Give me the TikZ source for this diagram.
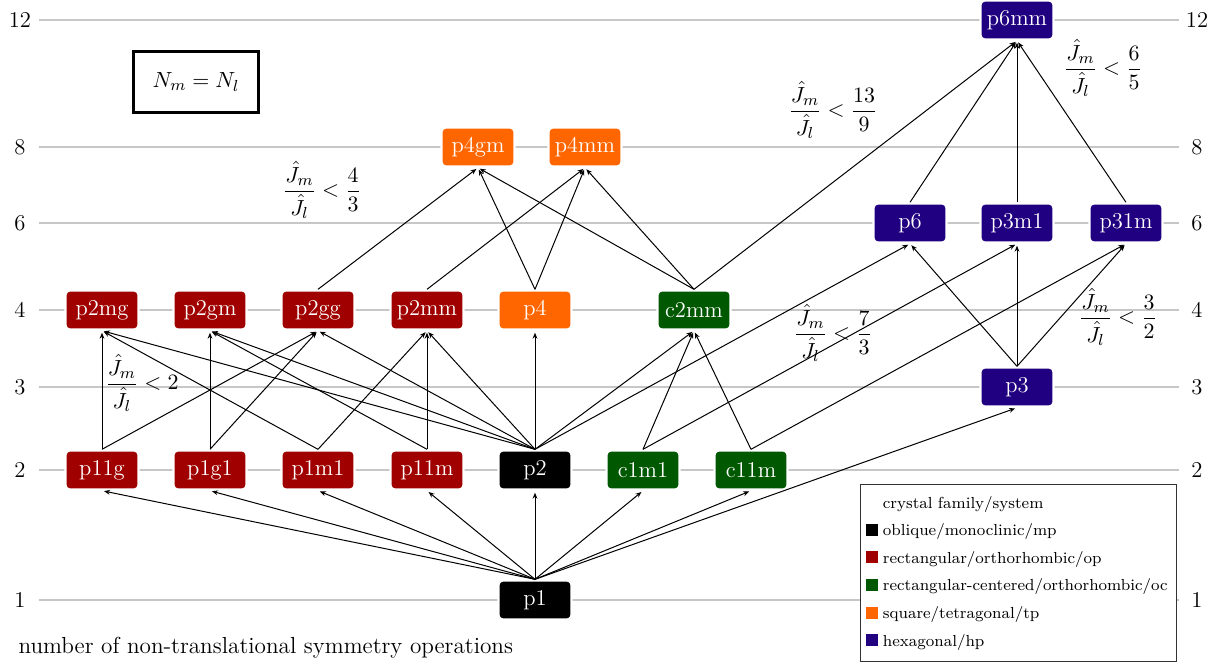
\documentclass[tikz,border=0pt]{standalone}
\usepackage{amsmath}
\usepackage{tikz}
\usetikzlibrary{arrows.meta,positioning}
\definecolor{monoBlack}{RGB}{0,0,0}
\definecolor{orthoRed}{RGB}{160,0,0}
\definecolor{centGreen}{RGB}{0,88,0}
\definecolor{tetraOrange}{RGB}{255,102,0}
\definecolor{hexBlue}{RGB}{32,0,128}
\newcommand{\swatch}[1]{\textcolor{#1}{\rule{6pt}{6pt}}}
\newcommand{\jratio}[1]{$\displaystyle\frac{\hat{J}_m}{\hat{J}_l}<#1$}
\tikzset{
  >=Stealth,
  every picture/.append style={line width=0.5pt},
  every node/.append style={font=\fontsize{11.3}{13}\selectfont},
}
\tikzset{
  group/.style={rounded corners=2pt, draw=white, line width=1.2pt, text=white,
                minimum width=36.5pt, minimum height=19.5pt, inner sep=1pt},
  edge/.style={-{Stealth[length=3pt,width=2.4pt]}, line width=0.5pt, shorten >=1pt},
  lane/.style={draw=black!22, line width=0.6pt}
}

\begin{document}
\begin{tikzpicture}[
  x=0.5pt, y=-0.5pt,
  axisnum/.style={minimum width=18pt, inner sep=0pt, align=center},
  note/.style={inner sep=0pt},
  legendbox/.style={draw=black!80, fill=white, line width=0.6pt, align=left,
                    text width=153pt, minimum height=88.5pt, inner xsep=2.5pt, inner ysep=4pt,
                    font=\fontsize{8}{13.8}\selectfont}
]
\useasboundingbox (0,0) rectangle (1222,666);

% levels: number of non-translational symmetry operations
\foreach \n/\y in {1/600, 2/470, 3/387, 4/310, 6/223, 8/147, 12/20}{
  \node[axisnum] (l\n) at (20,\y) {\n};
  \node[axisnum] (r\n) at (1197,\y) {\n};
  \draw[lane] (l\n.east) -- (r\n.west);
}

% oblique
\node[group, fill=monoBlack] (p1) at (535,600) {p1};
\node[group, fill=monoBlack] (p2) at (535,470) {p2};

% rectangular
\node[group, fill=orthoRed] (p11g) at (102,470) {p11g};
\node[group, fill=orthoRed] (p1g1) at (210,470) {p1g1};
\node[group, fill=orthoRed] (p1m1) at (318,470) {p1m1};
\node[group, fill=orthoRed] (p11m) at (427,470) {p11m};
\node[group, fill=orthoRed] (p2mg) at (102,310) {p2mg};
\node[group, fill=orthoRed] (p2gm) at (210,310) {p2gm};
\node[group, fill=orthoRed] (p2gg) at (318,310) {p2gg};
\node[group, fill=orthoRed] (p2mm) at (427,310) {p2mm};

% centered
\node[group, fill=centGreen] (c1m1) at (643,470) {c1m1};
\node[group, fill=centGreen] (c11m) at (751,470) {c11m};
\node[group, fill=centGreen] (c2mm) at (694,310) {c2mm};

% square
\node[group, fill=tetraOrange] (p4) at (535,310) {p4};
\node[group, fill=tetraOrange] (p4gm) at (478,147) {p4gm};
\node[group, fill=tetraOrange] (p4mm) at (585,147) {p4mm};

% hexagonal
\node[group, fill=hexBlue] (p3) at (1017,387) {p3};
\node[group, fill=hexBlue] (p6) at (910,223) {p6};
\node[group, fill=hexBlue] (p3m1) at (1017,223) {p3m1};
\node[group, fill=hexBlue] (p31m) at (1126,223) {p31m};
\node[group, fill=hexBlue] (p6mm) at (1017,20) {p6mm};

% subgroup arrows
\foreach \a/\b in {p1/p11g, p1/p1g1, p1/p1m1, p1/p11m, p1/p2, p1/c1m1, p1/c11m, p1/p3,
                   p11g/p2mg, p11g/p2gg, p1g1/p2gm, p1g1/p2gg,
                   p1m1/p2mg, p1m1/p2mm, p11m/p2gm, p11m/p2mm,
                   p2/p2mg, p2/p2gm, p2/p2gg, p2/p2mm, p2/p4, p2/c2mm, p2/p6,
                   c1m1/c2mm, c1m1/p3m1, c11m/c2mm, c11m/p31m,
                   p2gg/p4gm, p2mm/p4mm, p4/p4gm, p4/p4mm,
                   c2mm/p4gm, c2mm/p4mm, c2mm/p6mm,
                   p3/p6, p3/p3m1, p3/p31m,
                   p6/p6mm, p3m1/p6mm, p31m/p6mm}
  \draw[edge] (\a.north) -- (\b.south);

% stability bounds
\node[note] (bound2) at (142,383) {\jratio{2}};
\node[note] (bound43) at (322,190) {\jratio{\dfrac{4}{3}}};
\node[note] (bound139) at (833,110) {\jratio{\dfrac{13}{9}}};
\node[note] (bound73) at (833,333) {\jratio{\dfrac{7}{3}}};
\node[note] (bound32) at (1118,317) {\jratio{\dfrac{3}{2}}};
\node[note] (bound65) at (1103,68) {\jratio{\dfrac{6}{5}}};

\node[draw, line width=1.2pt, minimum width=62.5pt, minimum height=30.5pt] (nmnl) at (196,82) {$N_m = N_l$};

\node[anchor=west, inner sep=0pt, font=\fontsize{11.6}{13}\selectfont] (xlabel) at (18,648) {number of non-translational symmetry operations};

% legend
\node[legendbox, anchor=north west] (legend) at (860,484) {%
  \hphantom{\rule{6pt}{6pt}} crystal family/system\\
  \swatch{monoBlack} oblique/monoclinic/mp\\
  \swatch{orthoRed} rectangular/orthorhombic/op\\
  \mbox{\swatch{centGreen} rectangular-centered/orthorhombic/oc}\\
  \swatch{tetraOrange} square/tetragonal/tp\\
  \swatch{hexBlue} hexagonal/hp};

\end{tikzpicture}
\end{document}
